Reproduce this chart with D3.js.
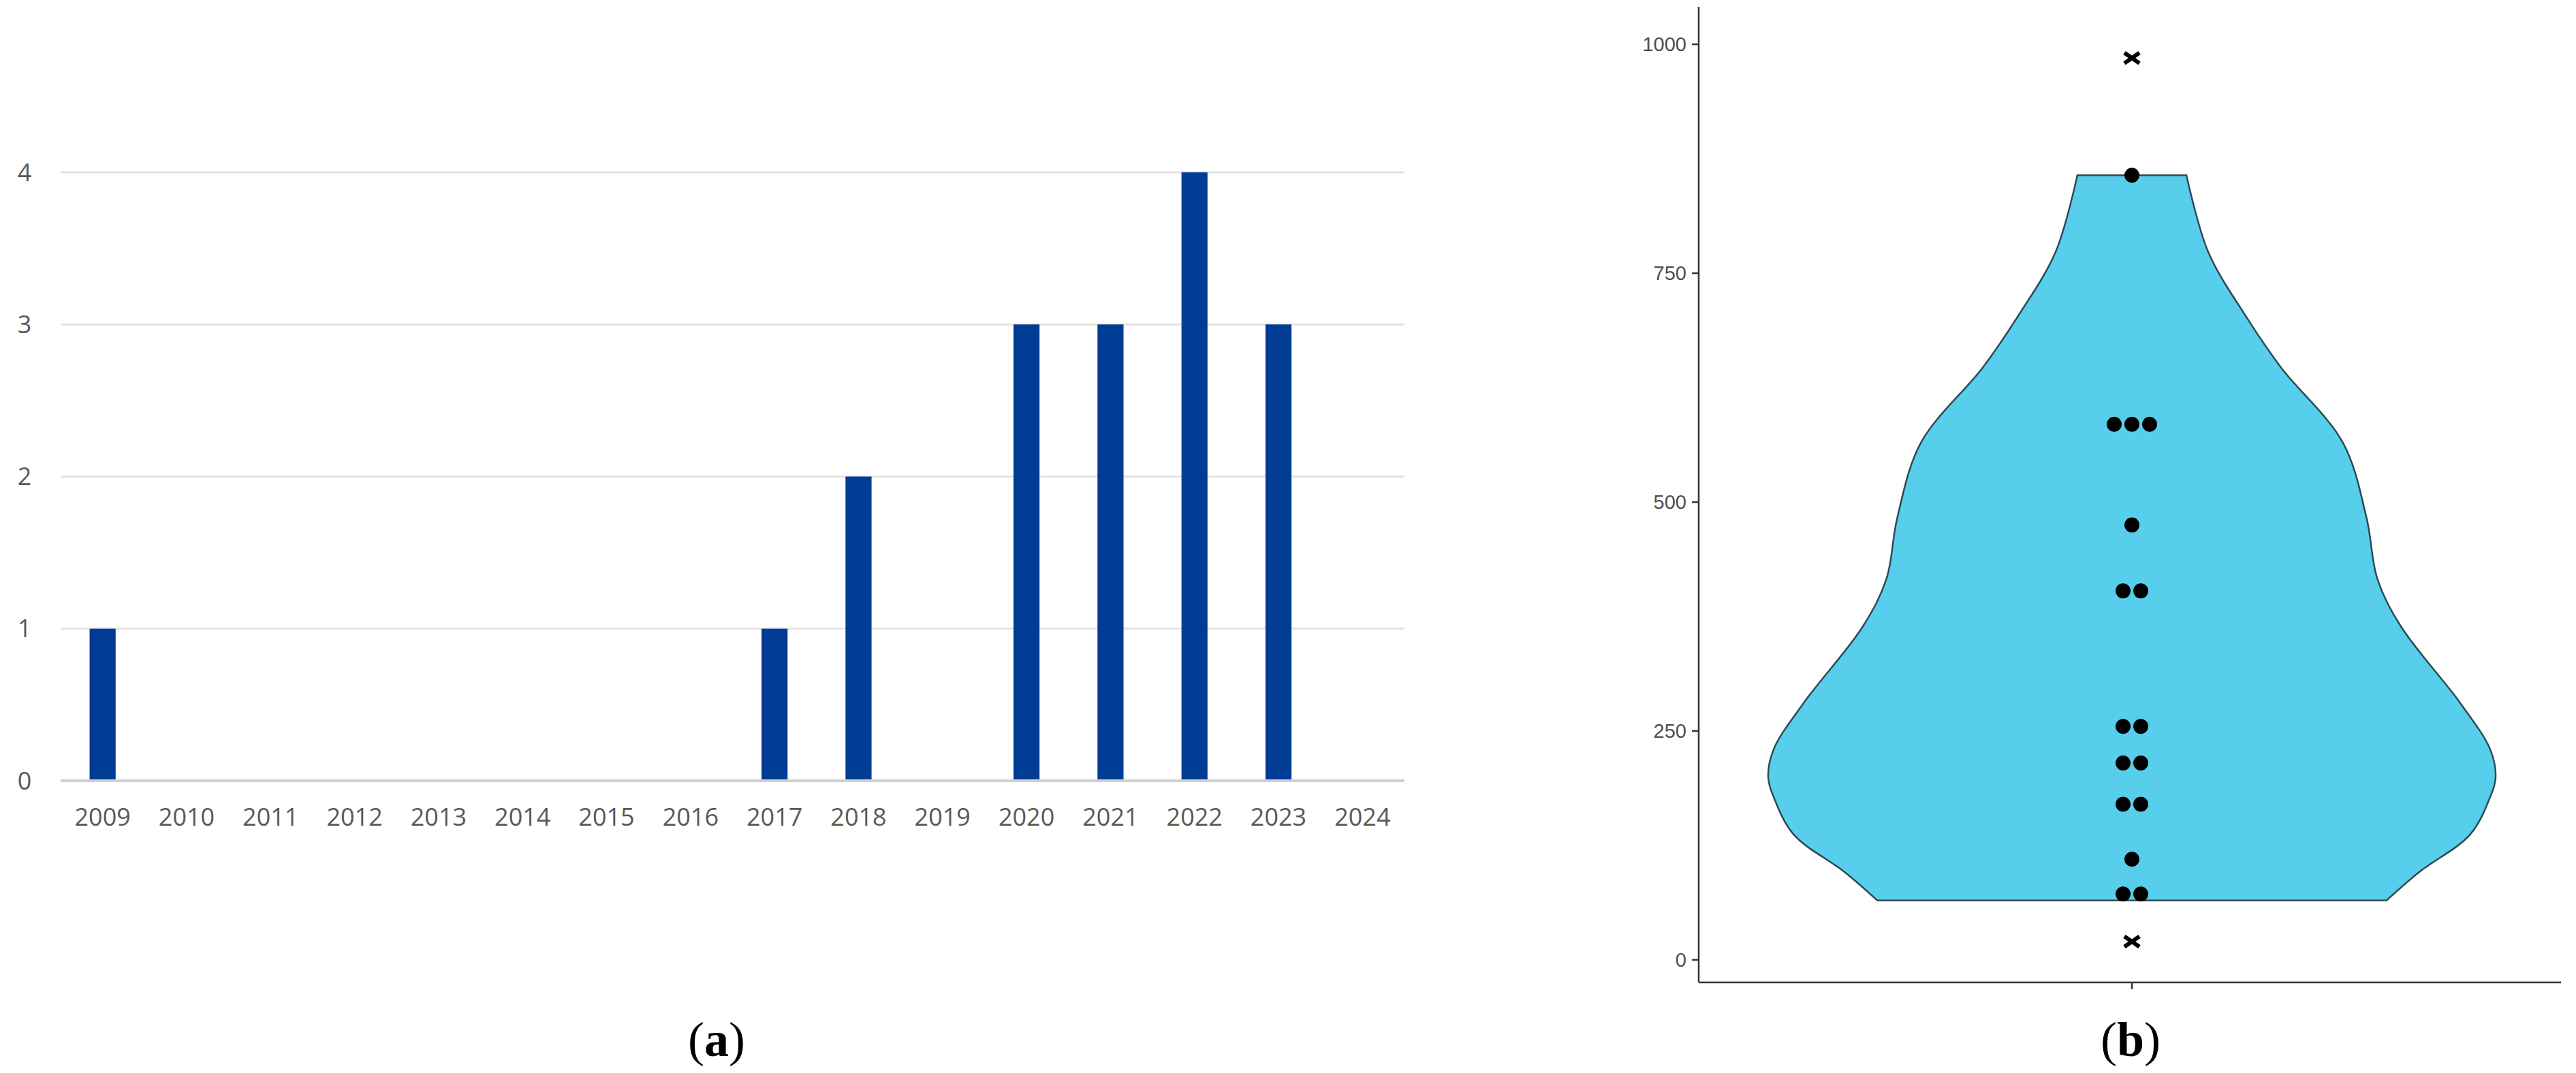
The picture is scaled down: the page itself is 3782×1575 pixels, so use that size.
<!DOCTYPE html>
<html><head><meta charset="utf-8">
<script src="https://cdn.jsdelivr.net/npm/d3@7"></script>
<style>body{margin:0;background:#fff}</style></head>
<body><svg id="c" width="3782" height="1575"></svg>
<script>
const years = ["2009","2010","2011","2012","2013","2014","2015","2016","2017","2018","2019","2020","2021","2022","2023","2024"];
const counts = [1,0,0,0,0,0,0,0,1,2,0,3,3,4,3,0];
const barTicks = [0,1,2,3,4];
// violin (panel b)
const dotValues = [857,585,585,585,475,403,403,255,255,215,215,170,170,110,72,72];
const outliers = [985,20];
const densityValues = [857,773,702,647,565,483,416,364,282,230,200,178,137,96,65];
const densityWidths = [0.15,0.21,0.315,0.41,0.58,0.645,0.675,0.74,0.9,0.985,1.0,0.985,0.93,0.79,0.70];
const violinTicks = [0,250,500,750,1000];

const svg = d3.select("#c");
// ---- panel a
const x = d3.scaleBand().domain(years).range([89,2062]).paddingInner(0.69).paddingOuter(0.345);
const y = d3.scaleLinear().domain([0,4]).range([1146,253]);
const ga = svg.append("g");
ga.selectAll("line.g").data(barTicks).join("line")
  .attr("x1",89).attr("x2",2062).attr("y1",d=>y(d)).attr("y2",d=>y(d))
  .attr("stroke",d=>d===0?"#d0d0d0":"#e3e3e3").attr("stroke-width",d=>d===0?4:3);
ga.selectAll("text.y").data(barTicks).join("text")
  .attr("x",36).attr("y",d=>y(d)).attr("dy","0.35em").attr("text-anchor","middle")
  .attr("font-family","Open Sans, sans-serif").attr("font-size",36).attr("fill","#595959").text(d=>d);
ga.selectAll("rect").data(years.map((k,i)=>({k,v:counts[i]})).filter(d=>d.v>0)).join("rect")
  .attr("x",d=>x(d.k)).attr("width",x.bandwidth()).attr("y",d=>y(d.v)).attr("height",d=>y(0)-y(d.v)-2)
  .attr("fill","#003C94");
ga.selectAll("text.x").data(years).join("text")
  .attr("x",d=>x(d)+x.bandwidth()/2).attr("y",1199).attr("dy","0.35em").attr("text-anchor","middle")
  .attr("font-family","Open Sans, sans-serif").attr("font-size",36).attr("fill","#595959").text(d=>d);
function label(cx,t){
  const tx = svg.append("text").attr("x",cx).attr("y",1550).attr("text-anchor","middle")
    .attr("font-family","Liberation Serif, serif").attr("font-size",72).attr("fill","#000");
  tx.append("tspan").text("(");
  tx.append("tspan").attr("font-weight","bold").text(t);
  tx.append("tspan").text(")");
}
label(1052,"a");
// ---- panel b
const cx = 3130;
const yv = d3.scaleLinear().domain([0,1000]).range([1409,65]);
const wv = d3.scaleLinear().domain([0,1]).range([0,534]);
const gb = svg.append("g");
gb.append("line").attr("x1",2494).attr("x2",2494).attr("y1",10).attr("y2",1442).attr("stroke","#333").attr("stroke-width",2.5);
gb.append("line").attr("x1",2494).attr("x2",3760).attr("y1",1442).attr("y2",1442).attr("stroke","#333").attr("stroke-width",2.5);
gb.append("line").attr("x1",cx).attr("x2",cx).attr("y1",1442).attr("y2",1452).attr("stroke","#333").attr("stroke-width",2.5);
gb.selectAll("line.t").data(violinTicks).join("line")
  .attr("x1",2484).attr("x2",2494).attr("y1",d=>yv(d)).attr("y2",d=>yv(d)).attr("stroke","#333").attr("stroke-width",2.5);
gb.selectAll("text.t").data(violinTicks).join("text")
  .attr("x",2476).attr("y",d=>yv(d)).attr("dy","0.35em").attr("text-anchor","end")
  .attr("font-family","Liberation Sans, Arial, sans-serif").attr("font-size",29).attr("fill","#4d4d4d").text(d=>d);
const pts = densityValues.map((v,i)=>[v,densityWidths[i]]);
const right = pts.map(p=>[cx+wv(p[1]), yv(p[0])]);
const left = pts.slice().reverse().map(p=>[cx-wv(p[1]), yv(p[0])]);
const line = d3.line().curve(d3.curveCatmullRom);
const path = line(right) + "L" + line(left).slice(1) + "Z";
gb.append("path").attr("d",path).attr("fill","#57CFEC").attr("stroke","#2d4a55").attr("stroke-width",2.5);
// dots (dodged)
const groups = d3.groups(dotValues,d=>d);
groups.forEach(([v,arr])=>{
  const n = arr.length;
  arr.forEach((_,i)=>{
    gb.append("circle").attr("cx",cx+(i-(n-1)/2)*26).attr("cy",yv(v)).attr("r",11).attr("fill","#000");
  });
});
outliers.forEach(v=>{
  const s=11, yy=yv(v);
  gb.append("path").attr("d",`M${cx-s},${yy-s*0.7}L${cx+s},${yy+s*0.7}M${cx-s},${yy+s*0.7}L${cx+s},${yy-s*0.7}`)
    .attr("stroke","#000").attr("stroke-width",6);
});
label(3128,"b");
</script></body></html>
